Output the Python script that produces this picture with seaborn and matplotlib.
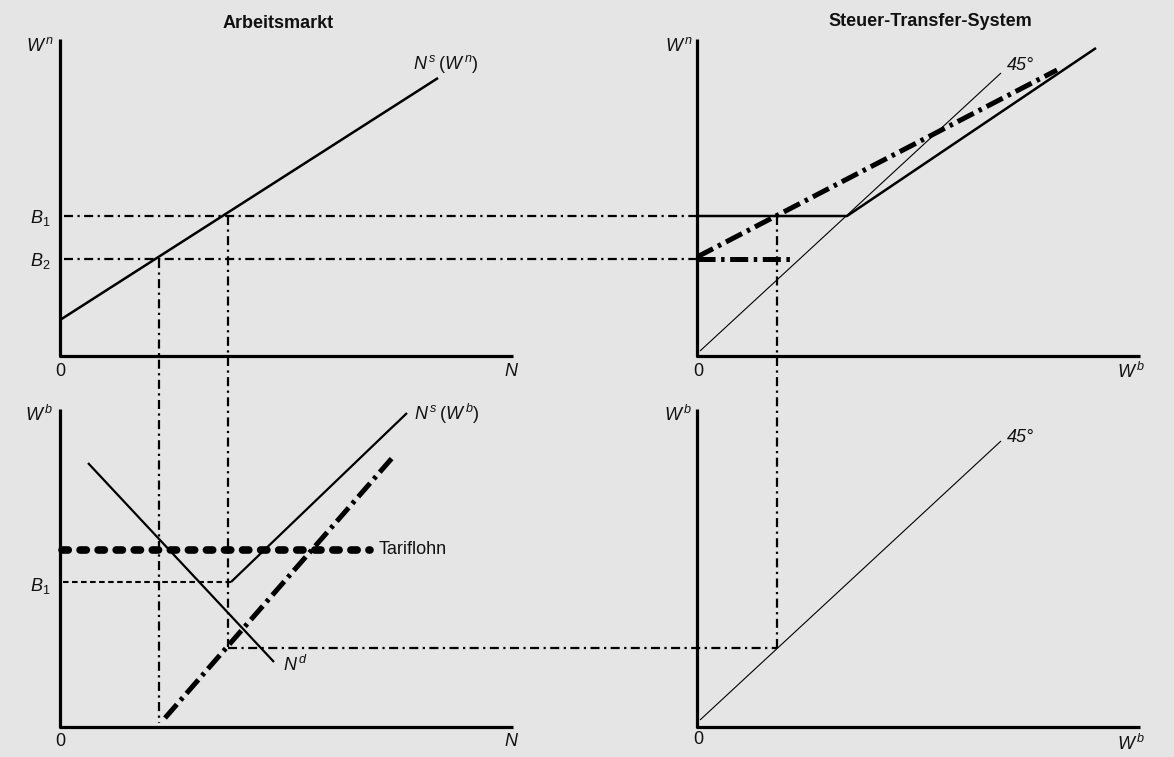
import matplotlib
matplotlib.use("Agg")
import matplotlib.pyplot as plt
import seaborn as sns

# ------------------------------------------------------------
# Diagram data (pixel-like coordinates, y grows downwards)
# ------------------------------------------------------------
# axes of the four panels: (x0, x1, y_top, y_bottom)
left_x0, left_x1 = 60, 513
right_x0, right_x1 = 697, 1140
top_y0, top_y1 = 39, 356
bot_y0, bot_y1 = 409, 727

# top-left: labour supply in net wages
ns_wn_x = [60, 438]
ns_wn_y = [320, 78]
b1_level = 216
b2_level = 259

# top-right: tax-transfer schedule
diag_top_x = [700, 1001]
diag_top_y = [351, 73]
tts_old_x = [697, 847, 1096]
tts_old_y = [216, 216, 48]
tts_new_x = [697, 1057]
tts_new_y = [257, 70]
tts_new_flat_x = [697, 790]
tts_new_flat_y = [259, 259]

# bottom-left: labour market in gross wages
nd_x = [88, 274]
nd_y = [463, 662]
ns_wb_x = [231, 407]
ns_wb_y = [582, 413]
ns_wb_new_x = [165, 393]
ns_wb_new_y = [718, 457]
tarif_x = [62, 370]
tarif_y = [550, 550]
b1_bot_x = [63, 231]
b1_bot_y = [582, 582]

# bottom-right: 45 degree mirror
diag_bot_x = [700, 1001]
diag_bot_y = [720, 441]

# guide lines connecting the panels
guide_b1_x = [64, 697]
guide_b2_x = [64, 697]
guide_v1_x = [159, 159]
guide_v1_y = [259, 723]
guide_v2_x = [228, 228]
guide_v2_y = [216, 647]
guide_v3_x = [777, 777]
guide_v3_y = [216, 648]
guide_h3_x = [228, 777]
guide_h3_y = [648, 648]

# ------------------------------------------------------------
sns.set_theme(style="white")
plt.rcParams["font.family"] = ["Liberation Sans", "DejaVu Sans"]
plt.rcParams["mathtext.fontset"] = "custom"
plt.rcParams["mathtext.rm"] = "Liberation Sans"
plt.rcParams["mathtext.it"] = "Liberation Sans:italic"
plt.rcParams["lines.scale_dashes"] = False

BG = "#e5e5e5"
fig = plt.figure(figsize=(11.74, 7.57), dpi=100, facecolor=BG)
ax = fig.add_axes([0, 0, 1, 1])
ax.set_facecolor(BG)
ax.set_xlim(0, 1174)
ax.set_ylim(757, 0)
ax.axis("off")

DASHDOT = (0, (6.5, 3.2, 1.6, 3.2))
THICK_DD = (0, (13, 4, 2.5, 4))
DASHED = (0, (4, 2.5))
TARIF = (0, (4.5, 8.5))


def seg(xs, ys, lw=1.8, ls="-", cap="butt"):
    sns.lineplot(x=xs, y=ys, ax=ax, color="black", lw=lw, linestyle=ls,
                 sort=False, estimator=None, solid_capstyle=cap,
                 dash_capstyle=cap)


# axes
for x0, x1 in [(left_x0, left_x1), (right_x0, right_x1)]:
    for y0, y1 in [(top_y0, top_y1), (bot_y0, bot_y1)]:
        seg([x0, x0, x1], [y0, y1, y1], lw=2.3)

# guide lines
seg(guide_b1_x, [b1_level, b1_level], lw=1.6, ls=DASHDOT)
seg(guide_b2_x, [b2_level, b2_level], lw=1.6, ls=DASHDOT)
seg(guide_v1_x, guide_v1_y, lw=1.6, ls=DASHDOT)
seg(guide_v2_x, guide_v2_y, lw=1.6, ls=DASHDOT)
seg(guide_v3_x, guide_v3_y, lw=1.6, ls=DASHDOT)
seg(guide_h3_x, guide_h3_y, lw=1.6, ls=DASHDOT)
seg(b1_bot_x, b1_bot_y, lw=1.5, ls=DASHED)

# curves
seg(ns_wn_x, ns_wn_y, lw=1.8)
seg(diag_top_x, diag_top_y, lw=0.8)
seg(tts_old_x, tts_old_y, lw=1.8)
seg(tts_new_x, tts_new_y, lw=3.6, ls=THICK_DD)
seg(tts_new_flat_x, tts_new_flat_y, lw=3.6, ls=THICK_DD)
seg(nd_x, nd_y, lw=1.6)
seg(ns_wb_x, ns_wb_y, lw=1.6)
seg(ns_wb_new_x, ns_wb_new_y, lw=3.6, ls=THICK_DD)
seg(tarif_x, tarif_y, lw=5.5, ls=TARIF, cap="round")
seg(diag_bot_x, diag_bot_y, lw=0.8)

# text
FS = 13
kw = dict(fontsize=FS, color="#111111")
ax.text(278, 23, "Arbeitsmarkt", ha="center", va="center", fontweight="bold", **kw)
ax.text(930, 22, "Steuer-Transfer-System", ha="center", va="center", fontweight="bold", **kw)

ax.text(54, 46, r"$W^{\,n}$", ha="right", va="center", **kw)
ax.text(50, 218, r"$B_{\mathit{1}}$", ha="right", va="center", **kw)
ax.text(50, 261, r"$B_{\mathit{2}}$", ha="right", va="center", **kw)
ax.text(60, 372, "0", ha="center", va="center", **kw)
ax.text(512, 372, r"$N$", ha="center", va="center", **kw)
ax.text(413, 64, r"$N^{\,s}\,(W^{\,n})$", ha="left", va="center", **kw)

ax.text(693, 46, r"$W^{\,n}$", ha="right", va="center", **kw)
ax.text(698, 372, "0", ha="center", va="center", **kw)
ax.text(1131, 372, r"$W^{\,b}$", ha="center", va="center", **kw)
ax.text(1007, 65, "45°", ha="left", va="center", style="italic", **kw)

ax.text(54, 415, r"$W^{\,b}$", ha="right", va="center", **kw)
ax.text(50, 586, r"$B_{\mathit{1}}$", ha="right", va="center", **kw)
ax.text(60, 741, "0", ha="center", va="center", **kw)
ax.text(512, 742, r"$N$", ha="center", va="center", **kw)
ax.text(414, 414, r"$N^{\,s}\,(W^{\,b})$", ha="left", va="center", **kw)
ax.text(379, 549, "Tariflohn", ha="left", va="center", **kw)
ax.text(283, 665, r"$N^{\,d}$", ha="left", va="center", **kw)

ax.text(693, 415, r"$W^{\,b}$", ha="right", va="center", **kw)
ax.text(698, 740, "0", ha="center", va="center", **kw)
ax.text(1131, 744, r"$W^{\,b}$", ha="center", va="center", **kw)
ax.text(1007, 438, "45°", ha="left", va="center", style="italic", **kw)

fig.savefig("out.png", dpi=100, facecolor=BG)
